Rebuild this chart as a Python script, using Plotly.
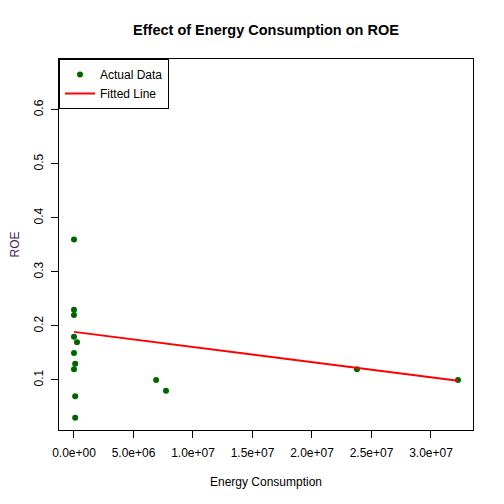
import plotly.graph_objects as go

# energy consumption vs ROE
energy = [0, 0, 0, 0, 2.5e5, 0, 1.0e5, 0, 6.9e6, 7.73e6, 1.0e5, 1.0e5, 2.378e7, 3.227e7]
roe = [0.36, 0.23, 0.22, 0.18, 0.17, 0.15, 0.13, 0.12, 0.10, 0.08, 0.07, 0.03, 0.12, 0.10]

# fitted line (as drawn in the reference)
fit_intercept = 0.189
fit_slope = -2.8e-9

x_ticks = [0, 5e6, 1e7, 1.5e7, 2e7, 2.5e7, 3e7]
x_tick_labels = ["0.0e+00", "5.0e+06", "1.0e+07", "1.5e+07", "2.0e+07", "2.5e+07", "3.0e+07"]
y_ticks = [0.1, 0.2, 0.3, 0.4, 0.5, 0.6]
y_tick_labels = ["0.1", "0.2", "0.3", "0.4", "0.5", "0.6"]

fit_x = sorted(energy)
fit_y = [fit_intercept + fit_slope * v for v in fit_x]

font = "Liberation Sans, Arial, sans-serif"

fig = go.Figure()
fig.add_trace(go.Scatter(
    x=energy, y=roe, mode="markers", name="Actual Data",
    marker=dict(color="#006400", size=6),
))
fig.add_trace(go.Scatter(
    x=fit_x, y=fit_y, mode="lines", name="Fitted Line",
    line=dict(color="#ff0000", width=2),
))

# page body has an 8px margin, so the figure is 496 px and margins are shifted
fig.update_layout(
    width=496, height=496,
    margin=dict(l=51, r=31, t=51, b=74),
    paper_bgcolor="white", plot_bgcolor="white",
    font=dict(family=font, size=12, color="black"),
    title=dict(text="<b>Effect of Energy Consumption on ROE</b>",
               x=258 / 496, xanchor="center",
               y=1 - 22 / 496, yanchor="middle",
               font=dict(size=14.5, color="black")),
    legend=dict(x=0, y=1, xanchor="left", yanchor="top",
                bordercolor="black", borderwidth=1, bgcolor="white",
                font=dict(size=12), tracegroupgap=0,
                itemwidth=30),
    showlegend=True,
)
fig.update_xaxes(
    range=[-1.26e6, 3.353e7], tickvals=x_ticks, ticktext=x_tick_labels,
    showgrid=False, zeroline=False, showline=True, linecolor="black", linewidth=1,
    mirror=True, ticks="outside", ticklen=7, tickcolor="black", ticklabelstandoff=5,
    automargin=False,
    title=dict(text="Energy Consumption", standoff=18, font=dict(size=12)),
)
fig.update_yaxes(
    range=[0.0074, 0.694], tickvals=y_ticks, ticktext=y_tick_labels, tickangle=-90,
    showgrid=False, zeroline=False, showline=True, linecolor="black", linewidth=1,
    mirror=True, ticks="outside", ticklen=7, tickcolor="black", ticklabelstandoff=3,
    automargin=False,
    title=dict(text="ROE", standoff=20, font=dict(size=12, color="#4a1660")),
)

fig.write_html("out.html")
